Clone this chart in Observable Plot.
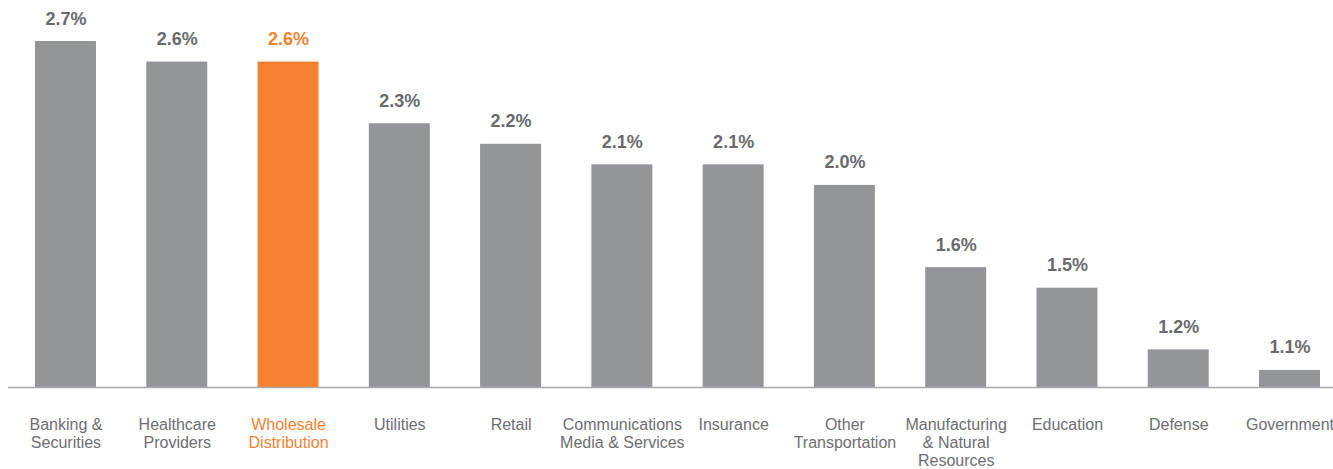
<!DOCTYPE html>
<html>
<head>
<meta charset="utf-8">
<script src="https://cdn.jsdelivr.net/npm/d3@7"></script>
<script src="https://cdn.jsdelivr.net/npm/@observablehq/plot@0.6"></script>
<style>
  html, body { margin: 0; padding: 0; background: #fff; }
  #chart svg { display: block; }
</style>
</head>
<body>
<div id="chart"></div>
<script>
const categories = [
  "Banking &\nSecurities",
  "Healthcare\nProviders",
  "Wholesale\nDistribution",
  "Utilities",
  "Retail",
  "Communications\nMedia & Services",
  "Insurance",
  "Other\nTransportation",
  "Manufacturing\n& Natural\nResources",
  "Education",
  "Defense",
  "Government"
];
const values = [2.7, 2.6, 2.6, 2.3, 2.2, 2.1, 2.1, 2.0, 1.6, 1.5, 1.2, 1.1];
const highlight = "Wholesale\nDistribution";
const yMin = 1.017;

const GRAY = "#939598";
const ORANGE = "#f58232";
const TEXT = "#6d6e71";

const data = categories.map((c, i) => ({cat: c, value: values[i]}));
const colorOf = d => d.cat === highlight ? ORANGE : GRAY;
const textColorOf = d => d.cat === highlight ? ORANGE : TEXT;

const chart = Plot.plot({
  width: 1333,
  height: 469,
  marginTop: 41,
  marginBottom: 82,
  marginLeft: 8,
  marginRight: 0,
  style: {fontFamily: "'Liberation Sans', Arial, sans-serif", background: "#fff"},
  x: {domain: categories, range: [35, 1320], paddingInner: 0.452, paddingOuter: 0, round: false, axis: null},
  y: {domain: [yMin, 2.7], axis: null},
  marks: [
    Plot.barY(data, {x: "cat", y1: yMin, y2: "value", fill: colorOf}),
    Plot.ruleY([yMin], {stroke: "#a7a9ac", strokeWidth: 1.5}),
    Plot.text(data, {
      x: "cat", y: "value",
      text: d => d.value.toFixed(1) + "%",
      lineAnchor: "bottom", dy: -17,
      fontSize: 18, fontWeight: "bold",
      fill: d => d.cat === highlight ? ORANGE : "#6a6a6d"
    }),
    Plot.text(data, {
      x: "cat", frameAnchor: "bottom",
      text: "cat",
      lineAnchor: "top", dy: 29.5,
      lineHeight: 1.13,
      fontSize: 16,
      fill: textColorOf
    })
  ]
});
document.getElementById("chart").appendChild(chart);
</script>
</body>
</html>
